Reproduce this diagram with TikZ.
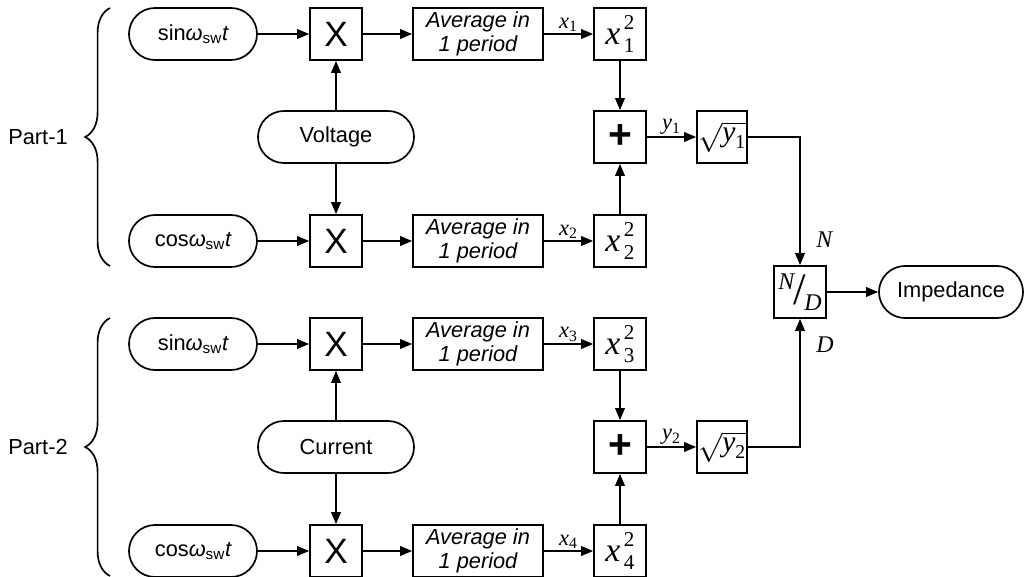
\documentclass[tikz,border=0pt]{standalone}
\usepackage{fontspec}
\setmainfont{Liberation Sans}
\newfontfamily\tms{Liberation Serif}
\usetikzlibrary{arrows.meta, positioning, shapes.misc, decorations.pathreplacing}
\tikzset{
  ov/.style = {rounded rectangle, draw=black, line width=1.2pt,
    minimum width=3.2cm, minimum height=1.3cm, inner sep=0pt,
    font=\fontsize{15.5}{18}\selectfont},
  bx/.style = {draw=black, line width=1.2pt, minimum size=1.3cm, inner sep=0pt},
  mul/.style = {bx, font=\fontsize{25}{25}\selectfont},
  sm/.style = {bx, font=\fontsize{29}{29}\selectfont\bfseries},
  avg/.style = {bx, minimum width=3.25cm, align=center,
    font=\fontsize{15.5}{17}\selectfont\itshape},
  lb/.style = {font=\tms\fontsize{16}{16}\selectfont\itshape, inner sep=1pt},
  prt/.style = {font=\fontsize{15.5}{18}\selectfont},
  ar/.style = {-{Triangle[length=3mm, width=2.4mm]}, line width=1.2pt},
  brc/.style = {decorate, decoration={brace, amplitude=0.62cm, aspect=0.5},
    line width=1.2pt}
}
\newcommand{\wsw}[1]{#1{\itshape ω}\textsubscript{sw}{\itshape t}}
\newcommand{\sqr}[1]{{\tms\itshape\fontsize{24}{24}\selectfont x}%
  {\tms\fontsize{15}{15}\selectfont\rlap{\raisebox{0.72em}{\,2}}\raisebox{-0.4em}{\,#1}}}
\newcommand{\rt}[1]{{\fontsize{21}{21}\selectfont
  $\sqrt{\mbox{\tms\itshape y}_{\mbox{\tms\upshape\fontsize{14}{14}\selectfont #1}}}$}}
\newcommand{\ndlab}{{\tms\itshape\fontsize{17}{17}\selectfont
  \raisebox{0.45em}{N}\kern-0.05em\raisebox{-0.2em}{\fontsize{32}{32}\selectfont\upshape /}%
  \kern-0.05em\raisebox{-0.45em}{D}}}

\begin{document}
\begin{tikzpicture}[x=0.025cm, y=-0.025cm]
  \useasboundingbox (0,0) rectangle (1025,577);

  % part 1: voltage
  \node [ov] (s1) at (193,34) {\wsw{sin}};
  \node [ov] (c1) at (193,241) {\wsw{cos}};
  \node [ov, minimum width=3.9cm] (v) at (336,137) {Voltage};
  \node [mul] (m1) at (336,34) {X};
  \node [mul] (m2) at (336,241) {X};
  \node [avg] (a1) at (478,34) {Average in\\1 period};
  \node [avg] (a2) at (478,241) {Average in\\1 period};
  \node [bx] (q1) at (620,34) {\sqr{1}};
  \node [bx] (q2) at (620,241) {\sqr{2}};
  \node [sm] (p1) at (620,137) {+};
  \node [bx, minimum width=1.25cm] (r1) at (722,137) {\rt{1}};

  % part 2: current
  \node [ov] (s2) at (193,344) {\wsw{sin}};
  \node [ov] (c2) at (193,551) {\wsw{cos}};
  \node [ov, minimum width=3.9cm] (i) at (336,447) {Current};
  \node [mul] (m3) at (336,344) {X};
  \node [mul] (m4) at (336,551) {X};
  \node [avg] (a3) at (478,344) {Average in\\1 period};
  \node [avg] (a4) at (478,551) {Average in\\1 period};
  \node [bx] (q3) at (620,344) {\sqr{3}};
  \node [bx] (q4) at (620,551) {\sqr{4}};
  \node [sm] (p2) at (620,447) {+};
  \node [bx, minimum width=1.25cm] (r2) at (722,447) {\rt{2}};

  % output
  \node [bx] (nd) at (800,292) {\ndlab};
  \node [ov, minimum width=3.6cm] (z) at (951,292) {Impedance};

  % braces
  \draw [brc] (110,266) -- (110,8);
  \draw [brc] (110,576) -- (110,318);
  \node [prt] (pt1) at (38,137) {Part-1};
  \node [prt] (pt2) at (38,447) {Part-2};

  % connectors
  \draw [ar] (s1) -- (m1);
  \draw [ar] (c1) -- (m2);
  \draw [ar] (v) -- (m1);
  \draw [ar] (v) -- (m2);
  \draw [ar] (m1) -- (a1);
  \draw [ar] (m2) -- (a2);
  \draw [ar] (a1) -- node [lb, above] {x\textsubscript{\upshape 1}} (q1);
  \draw [ar] (a2) -- node [lb, above] {x\textsubscript{\upshape 2}} (q2);
  \draw [ar] (q1) -- (p1);
  \draw [ar] (q2) -- (p1);
  \draw [ar] (p1) -- node [lb, above] {y\textsubscript{\upshape 1}} (r1);

  \draw [ar] (s2) -- (m3);
  \draw [ar] (c2) -- (m4);
  \draw [ar] (i) -- (m3);
  \draw [ar] (i) -- (m4);
  \draw [ar] (m3) -- (a3);
  \draw [ar] (m4) -- (a4);
  \draw [ar] (a3) -- node [lb, above] {x\textsubscript{\upshape 3}} (q3);
  \draw [ar] (a4) -- node [lb, above] {x\textsubscript{\upshape 4}} (q4);
  \draw [ar] (q3) -- (p2);
  \draw [ar] (q4) -- (p2);
  \draw [ar] (p2) -- node [lb, above] {y\textsubscript{\upshape 2}} (r2);

  \draw [ar] (r1) -| node [lb, pos=0.9, right=0.35cm, font=\tms\fontsize{17}{17}\selectfont\itshape] {N} (nd);
  \draw [ar] (r2) -| node [lb, pos=0.9, right=0.35cm, font=\tms\fontsize{17}{17}\selectfont\itshape] {D} (nd);
  \draw [ar] (nd) -- (z);
\end{tikzpicture}
\end{document}
